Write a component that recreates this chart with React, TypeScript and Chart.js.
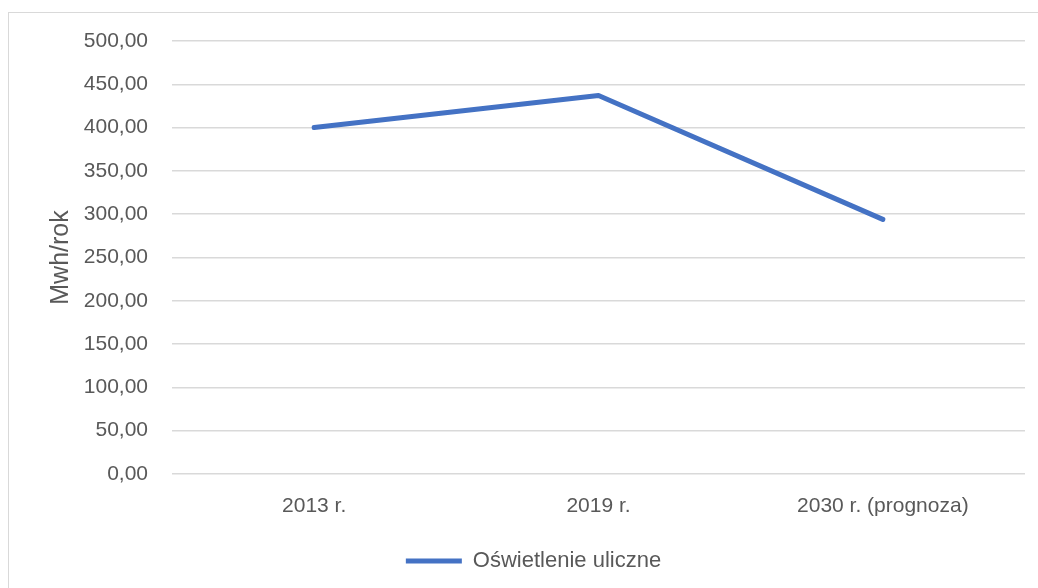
import React, { useEffect, useRef } from "react";
import { Chart, registerables } from "chart.js";

Chart.register(...registerables);

const categories = ["2013 r.", "2019 r.", "2030 r. (prognoza)"];
const seriesName = "Oświetlenie uliczne";
const seriesValues = [400, 437, 294];
const yTitle = "Mwh/rok";

const FONT = "'Liberation Sans', Arial, sans-serif";
const TEXT = "#595959";

const legendShift = {
  id: "legendShift",
  afterLayout(chart: any) {
    const lg = chart.legend;
    if (lg) {
      lg.left += 21;
      lg.right += 21;
    }
  },
};

export default function App() {
  const ref = useRef<HTMLCanvasElement | null>(null);

  useEffect(() => {
    document.body.style.margin = "0";
    const canvas = ref.current;
    if (!canvas) return;
    const chart = new Chart(canvas, {
      type: "line",
      data: {
        labels: categories,
        datasets: [
          {
            label: seriesName,
            data: seriesValues,
            borderColor: "#4472C4",
            backgroundColor: "#4472C4",
            borderWidth: 5,
            borderCapStyle: "round",
            borderJoinStyle: "round",
            pointRadius: 0,
            pointHoverRadius: 0,
            fill: false,
            tension: 0,
          },
        ],
      },
      plugins: [legendShift],
      options: {
        animation: false,
        responsive: false,
        maintainAspectRatio: false,
        layout: { padding: { left: 0, right: 13, top: 41, bottom: 6 } },
        plugins: {
          tooltip: { enabled: false },
          legend: {
            position: "bottom",
            labels: {
              usePointStyle: true,
              pointStyle: "line",
              pointStyleWidth: 56,
              color: TEXT,
              font: { family: FONT, size: 22 },
              padding: 10,
            },
          },
        },
        scales: {
          x: {
            offset: true,
            grid: { display: false, drawTicks: false },
            border: { display: false },
            ticks: {
              color: TEXT,
              font: { family: FONT, size: 21 },
              padding: 20,
              maxRotation: 0,
            },
            afterFit: (s: any) => {
              s.height = 66;
            },
          },
          y: {
            min: 0,
            max: 500,
            grid: { color: "#d9d9d9", lineWidth: 1.5, drawTicks: false },
            border: { display: false },
            ticks: {
              stepSize: 50,
              color: TEXT,
              font: { family: FONT, size: 21 },
              padding: 24,
              callback: (v: any) =>
                Number(v).toFixed(2).replace(".", ","),
            },
            title: {
              display: true,
              text: yTitle,
              color: TEXT,
              font: { family: FONT, size: 25 },
              padding: { top: 46, bottom: 0 },
            },
            afterFit: (s: any) => {
              s.width = 172;
            },
          },
        },
      },
    });
    return () => chart.destroy();
  }, []);

  return (
    <div style={{ position: "relative", width: 1038, height: 588, overflow: "hidden", background: "#fff" }}>
      <div
        style={{
          position: "absolute",
          left: 8,
          top: 12,
          width: 1050,
          height: 600,
          border: "1px solid #d9d9d9",
          boxSizing: "border-box",
        }}
      />
      <canvas
        ref={ref}
        width={1038}
        height={588}
        style={{ position: "absolute", left: 0, top: 0, width: 1038, height: 588 }}
      />
    </div>
  );
}
